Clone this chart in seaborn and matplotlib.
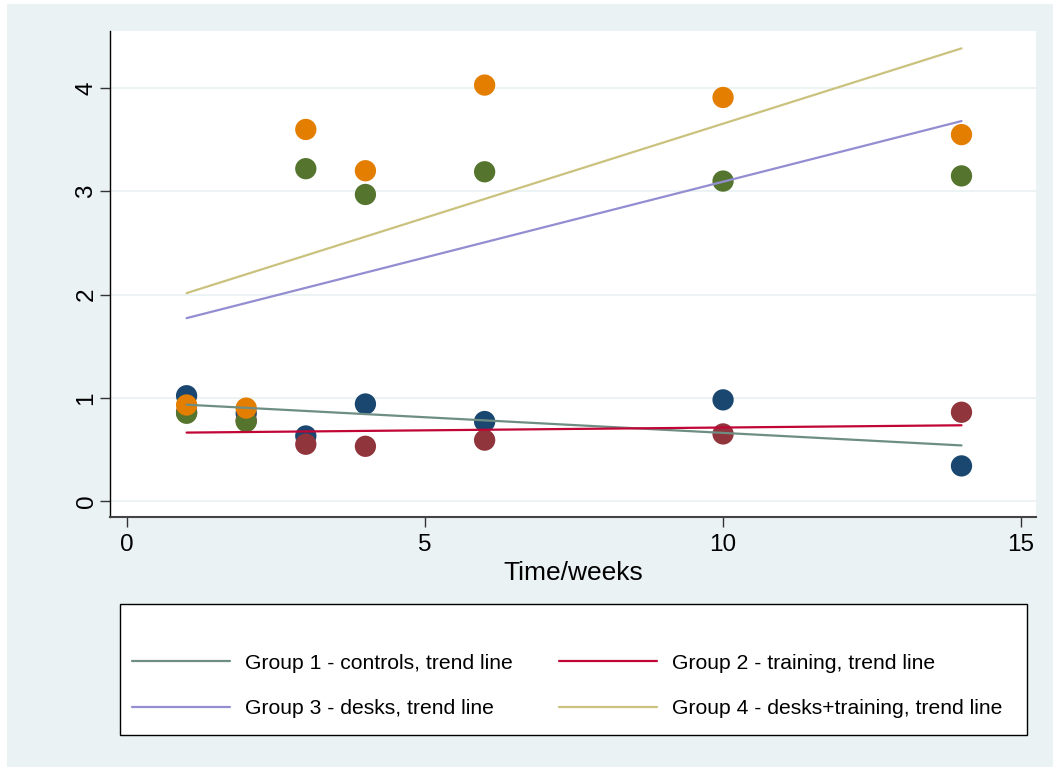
import matplotlib
matplotlib.use("Agg")
import matplotlib.pyplot as plt
from matplotlib.patches import Rectangle
from matplotlib.lines import Line2D
import seaborn as sns
import pandas as pd

# ---- data ----
weeks = [1, 2, 3, 4, 6, 10, 14]
group1_controls = [1.02, 0.85, 0.63, 0.94, 0.77, 0.98, 0.34]
group2_training = [0.86, 0.78, 0.55, 0.53, 0.59, 0.65, 0.86]
group3_desks = [0.85, 0.77, 3.22, 2.97, 3.19, 3.10, 3.15]
group4_desks_training = [0.93, 0.90, 3.60, 3.20, 4.03, 3.91, 3.55]

group_names = ["Group 1 - controls", "Group 2 - training",
               "Group 3 - desks", "Group 4 - desks+training"]
series = [group1_controls, group2_training, group3_desks, group4_desks_training]
point_colors = ["#1a476f", "#90353b", "#55752f", "#e37e00"]
line_colors = ["#6e8e84", "#c10534", "#938dd2", "#cac27e"]
x_ticks = [0, 5, 10, 15]
y_ticks = [0, 1, 2, 3, 4]
x_label = "Time/weeks"

rows = []
for name, vals in zip(group_names, series):
    for w, v in zip(weeks, vals):
        rows.append({"week": w, "value": v, "group": name})
df = pd.DataFrame(rows)

# ---- figure ----
sns.set_theme(style="white")
plt.rcParams["font.family"] = ["Liberation Sans", "DejaVu Sans"]
plt.rcParams["text.color"] = "black"
plt.rcParams["axes.labelcolor"] = "black"
plt.rcParams["xtick.color"] = "black"
plt.rcParams["ytick.color"] = "black"

W, H = 1053, 767
fig = plt.figure(figsize=(W / 100, H / 100), dpi=100, facecolor="white")
bg = "#eaf2f3"
fig.patches.append(Rectangle((7 / W, 0), 1, (H - 4) / H, transform=fig.transFigure,
                             facecolor=bg, edgecolor="none", zorder=-10))

ax = fig.add_axes([110 / W, (H - 517) / H, (1036 - 110) / W, (517 - 31) / H])
ax.set_facecolor("white")

# gridlines
ax.set_axisbelow(True)
ax.yaxis.grid(True, color=bg, linewidth=1.3)
ax.xaxis.grid(False)

palette = dict(zip(group_names, point_colors))
sns.scatterplot(data=df, x="week", y="value", hue="group", palette=palette,
                s=235, edgecolor="none", linewidth=0, legend=False, ax=ax, zorder=3)

handles = []
for name, col in zip(group_names, line_colors):
    sub = df[df["group"] == name]
    sns.regplot(data=sub, x="week", y="value", scatter=False, ci=None, truncate=True,
                color=col, line_kws={"linewidth": 1.6, "zorder": 4}, ax=ax)
    handles.append(Line2D([], [], color=col, linewidth=1.6))

ax.set_xlim(-0.285, 15.25)
ax.set_ylim(-0.155, 4.554)
ax.set_xticks(x_ticks)
ax.set_yticks(y_ticks)
ax.set_xticklabels([str(t) for t in x_ticks], fontsize=17.5, color="black")
ax.set_yticklabels([str(t) for t in y_ticks], fontsize=17.5, rotation=90, va="center",
                   color="black")
ax.tick_params(axis="both", which="major", length=7, width=1, color="#333333",
               bottom=True, left=True, labelcolor="black")
ax.tick_params(axis="x", pad=5)
ax.tick_params(axis="y", pad=2)
ax.set_xlabel(x_label, fontsize=19, color="black", labelpad=4)
ax.set_ylabel("")

for side in ["top", "right"]:
    ax.spines[side].set_visible(False)
ax.spines["left"].set_color("black")
ax.spines["left"].set_linewidth(1.0)
ax.spines["bottom"].set_color("#444444")
ax.spines["bottom"].set_linewidth(1.5)

# legend frame
fig.patches.append(Rectangle((120 / W, (H - 735) / H), (1027 - 120) / W, (735 - 604) / H,
                             transform=fig.transFigure, facecolor="white",
                             edgecolor="black", linewidth=1.0, zorder=-5))
labels = [n + ", trend line" for n in group_names]
order = [0, 2, 1, 3]
leg = fig.legend([handles[i] for i in order], [labels[i] for i in order], ncol=2,
                 loc="center left", bbox_to_anchor=(132 / W, (H - 686) / H),
                 frameon=False, fontsize=15.2, handlelength=4.65, handletextpad=0.72,
                 columnspacing=2.15, labelspacing=1.25, borderpad=0, borderaxespad=0)
for t in leg.get_texts():
    t.set_color("black")

fig.savefig("out.png", dpi=100, facecolor=fig.get_facecolor())
